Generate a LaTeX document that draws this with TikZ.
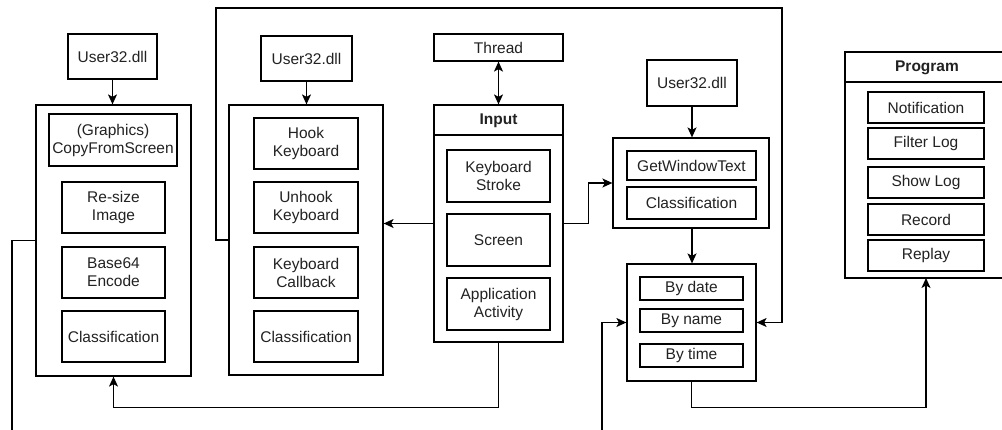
\documentclass[tikz,border=0pt]{standalone}
\usepackage{fontspec}
\setmainfont{Liberation Sans}
\usetikzlibrary{arrows.meta,calc}
\definecolor{txt}{HTML}{222222}
\tikzset{
  box/.style={draw, line width=1.2pt, align=center, inner sep=0pt, text=txt, font=\fontsize{15.5}{18}\selectfont},
  conn/.style={line width=1.2pt},
  arr/.style={conn, -{Stealth[length=10pt,width=9pt,inset=2.5pt]}},
  darr/.style={conn, {Stealth[length=10pt,width=9pt,inset=2.5pt]}-{Stealth[length=10pt,width=9pt,inset=2.5pt]}},
  hdr/.style={font=\fontsize{15.5}{18}\selectfont\bfseries, text=txt, inner sep=0pt}
}
\begin{document}
\begin{tikzpicture}[x=1pt,y=-1pt]
\useasboundingbox (0,0) rectangle (1002,430);
\clip (0,0) rectangle (1002,430);
\fill[white] (0,0) rectangle (1002,430);

% left column
\node[box, minimum width=89pt, minimum height=45pt] (u1) at (112.5,56.5) {User32.dll};
\node[box, minimum width=155pt, minimum height=271pt] (lc) at (113.5,240.5) {};
\node[box, minimum width=128pt, minimum height=52pt] (cfs) at (113,140) {(Graphics)\\CopyFromScreen};
\node[box, minimum width=103pt, minimum height=51pt] (rsi) at (113.5,207.5) {Re-size\\Image};
\node[box, minimum width=103pt, minimum height=51pt] (b64) at (113.5,272.5) {Base64\\Encode};
\node[box, minimum width=103pt, minimum height=51pt] (cl1) at (113.5,336.5) {Classification};

% middle column
\node[box, minimum width=91pt, minimum height=45pt] (u2) at (306.5,58.5) {User32.dll};
\node[box, minimum width=154pt, minimum height=270pt] (mc) at (306,240) {};
\node[box, minimum width=104pt, minimum height=51pt] (hk) at (306,143.5) {Hook\\Keyboard};
\node[box, minimum width=104pt, minimum height=51pt] (uk) at (306,207.5) {Unhook\\Keyboard};
\node[box, minimum width=104pt, minimum height=51pt] (kc) at (306,272.5) {Keyboard\\Callback};
\node[box, minimum width=104pt, minimum height=51pt] (cl2) at (306,336.5) {Classification};

% input column
\node[box, minimum width=129pt, minimum height=27pt] (th) at (498.5,47.5) {Thread};
\node[box, minimum width=129pt, minimum height=237pt] (inp) at (498.5,223.5) {};
\node[hdr] (inph) at (498.5,121) {Input};
\draw[conn] (inp.west |- 0,135) -- (inp.east |- 0,135);
\node[box, minimum width=103pt, minimum height=52pt] (ks) at (498.5,176) {Keyboard\\Stroke};
\node[box, minimum width=103pt, minimum height=52pt] (sc) at (498.5,240) {Screen};
\node[box, minimum width=103pt, minimum height=52pt] (aa) at (498.5,304) {Application\\Activity};

% window text column
\node[box, minimum width=90pt, minimum height=46pt] (u3) at (692,83) {User32.dll};
\node[box, minimum width=156pt, minimum height=90pt] (gc) at (691,183) {};
\node[box, minimum width=129pt, minimum height=29pt] (gwt) at (691.5,165.5) {GetWindowText};
\node[box, minimum width=129pt, minimum height=32pt] (cl3) at (691.5,203) {Classification};
\node[box, minimum width=129pt, minimum height=117pt] (bc) at (691.5,322.5) {};
\node[box, minimum width=103pt, minimum height=23pt] (bd) at (691.5,288.5) {By date};
\node[box, minimum width=103pt, minimum height=23pt] (bn) at (691.5,320.5) {By name};
\node[box, minimum width=103pt, minimum height=23pt] (bt) at (691.5,355.5) {By time};

% program (right edge lies outside the picture)
\node[box, minimum width=180pt, minimum height=226pt] (pg) at (935,165) {};
\coordinate (pgb) at (926,278);
\node[hdr] (pgh) at (927,68) {Program};
\draw[conn] (pg.west |- 0,82) -- (pg.east |- 0,82);
\node[box, minimum width=116pt, minimum height=31pt] (nt) at (926,107.5) {Notification};
\node[box, minimum width=116pt, minimum height=31pt] (fl) at (926,143.5) {Filter Log};
\node[box, minimum width=116pt, minimum height=31pt] (sl) at (926,182.5) {Show Log};
\node[box, minimum width=116pt, minimum height=31pt] (rc) at (926,219.5) {Record};
\node[box, minimum width=116pt, minimum height=31pt] (rp) at (926,255.5) {Replay};

% connectors
\draw[arr] (u1.south) -- (u1.south |- lc.north);
\draw[arr] (u2.south) -- (u2.south |- mc.north);
\draw[darr] (th.south) -- (inp.north);
\draw[arr] (u3.south) -- (u3.south |- gc.north);
\draw[arr] (gc.south -| 692,0) -- (bc.north -| 692,0);
\draw[arr] (inp.west) -- (inp.west -| mc.east);
\draw[arr] (inp.east) -- ++(25,0) |- (gc.west);
\draw[arr] (inp.south) -- ++(0,65) -| (lc.south);
\coordinate (tl) at (216,8);
\coordinate (tr) at (782,8);
\draw[arr] (mc.west) -| (tl) -- (tr) |- (bc.east);
\draw[arr] (bc.south) -- ++(0,26) -| (pgb);
\coordinate (e1) at (12,432);
\draw[conn] (lc.west) -| (e1);
\coordinate (e2) at (602,432);
\draw[arr] (e2) |- (bc.west);
\end{tikzpicture}
\end{document}
